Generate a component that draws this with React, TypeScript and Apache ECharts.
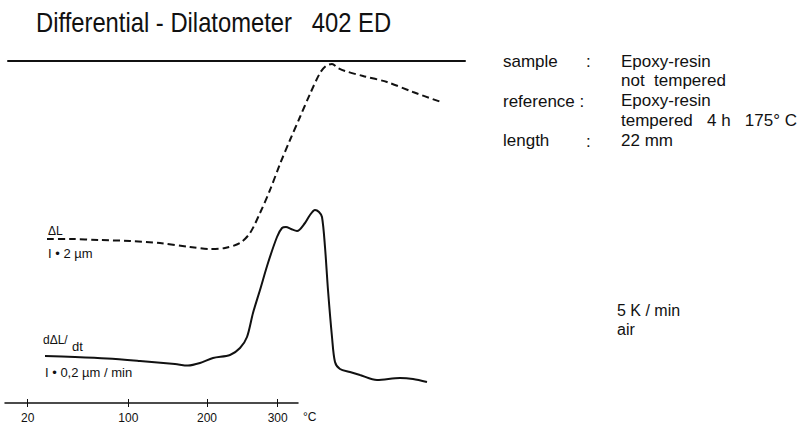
import React, { useEffect, useRef } from "react";
import * as echarts from "echarts";

// x positions are in chart-scale units (the original temperature scale is non-linear)
const xTickPositions = [22.7, 123.3, 202, 272.7];
const xTickLabels = ["20", "100", "200", "300"];

// ΔL (dashed), arbitrary units
const dLx = [42, 65, 95, 125, 155, 185, 205, 220, 235, 245, 255, 265, 275, 285, 295, 305, 315, 321, 327, 333, 340, 358, 382, 408, 436];
const dLy = [165, 165, 164, 163, 161, 157, 155, 156, 161, 171, 191, 214, 240, 264, 287, 310, 331, 338, 340, 336, 333, 328, 322, 312, 302];

// dΔL/dt (solid), arbitrary units
const rateX = [40, 70, 102, 135, 170, 183, 195, 208, 225, 235, 242, 248, 255, 263, 272, 277, 281, 286, 292, 300, 305, 310, 314, 317, 320, 323, 327, 330, 335, 345, 355, 372, 395, 408, 422];
const rateY = [48, 47, 45.5, 43, 40, 38.5, 41, 46, 49, 56, 67, 91, 114, 141, 167, 176, 177, 175, 173, 181, 189, 194, 192, 187, 157, 114, 67, 42, 35, 32, 29, 24, 26, 25, 22];

const INK = "#111";
const FONT = "Liberation Sans";

export default function App() {
  const ref = useRef<HTMLDivElement>(null);
  useEffect(() => {
    if (!ref.current) return;
    const chart = echarts.init(ref.current, null, { renderer: "svg" });
    const labelFor = (v: number) => {
      let best = 0;
      xTickPositions.forEach((p, i) => {
        if (Math.abs(p - v) < Math.abs(xTickPositions[best] - v)) best = i;
      });
      return xTickLabels[best];
    };
    const txt = (text: string, x: number, y: number, size: number, extra: any = {}) => ({
      type: "text",
      x,
      y,
      scaleX: extra.scaleX ?? 1,
      style: {
        text,
        fill: INK,
        font: `${size}px "${FONT}"`,
        verticalAlign: "middle",
        align: extra.align ?? "left",
      },
    });
    const hiddenY = (gridIndex: number, max: number) => ({ gridIndex, type: "value", min: 0, max, show: false });
    chart.setOption({
      animation: false,
      backgroundColor: "#fff",
      grid: [
        // plot area for the curves
        { left: 5, width: 460, top: 51, height: 353 },
        // short temperature axis at the bottom
        { left: 5, width: 293, top: 394, height: 10 },
        // frame line at the top
        { left: 8, width: 457, top: 51, height: 10 },
      ],
      xAxis: [
        {
          gridIndex: 0,
          type: "value",
          min: 0,
          max: 460,
          show: false,
        },
        {
          gridIndex: 1,
          type: "value",
          min: 0,
          max: 293,
          position: "bottom",
          axisLine: { show: true, lineStyle: { color: INK, width: 1.5 } },
          axisTick: { show: true, customValues: xTickPositions, length: 4, lineStyle: { color: INK, width: 1 } },
          axisLabel: {
            show: true,
            customValues: xTickPositions,
            formatter: (v: number) => labelFor(v),
            color: INK,
            fontSize: 12,
            fontFamily: FONT,
            margin: 9,
          },
          splitLine: { show: false },
        },
        {
          gridIndex: 1,
          type: "value",
          min: 0,
          max: 293,
          position: "bottom",
          axisLine: { show: false },
          axisTick: { show: true, inside: true, customValues: xTickPositions, length: 4, lineStyle: { color: INK, width: 1 } },
          axisLabel: { show: false },
          splitLine: { show: false },
        },
        {
          gridIndex: 2,
          type: "value",
          min: 0,
          max: 1,
          position: "top",
          axisLine: { show: true, lineStyle: { color: INK, width: 2 } },
          axisTick: { show: false },
          axisLabel: { show: false },
          splitLine: { show: false },
        },
      ],
      yAxis: [hiddenY(0, 353), hiddenY(1, 1), hiddenY(2, 1)],
      series: [
        {
          name: "ΔL",
          type: "line",
          xAxisIndex: 0,
          yAxisIndex: 0,
          data: dLx.map((x, i) => [x, dLy[i]]),
          showSymbol: false,
          symbol: "none",
          smooth: 0.3,
          lineStyle: { color: INK, width: 2, type: [7, 4] },
        },
        {
          name: "dΔL/dt",
          type: "line",
          xAxisIndex: 0,
          yAxisIndex: 0,
          data: rateX.map((x, i) => [x, rateY[i]]),
          showSymbol: false,
          symbol: "none",
          smooth: 0.3,
          lineStyle: { color: INK, width: 2 },
        },
      ],
      graphic: [
        txt("Differential - Dilatometer   402 ED", 36, 22, 28, { scaleX: 0.85 }),
        txt("sample", 503, 61, 17),
        txt(":", 586, 61, 17),
        txt("Epoxy-resin", 621, 61, 17),
        txt("not  tempered", 621, 80, 17),
        txt("reference :", 503, 101, 17),
        txt("Epoxy-resin", 621, 100, 17),
        txt("tempered   4 h   175° C", 621, 120, 17),
        txt("length", 503, 140, 17),
        txt(":", 586, 141, 17),
        txt("22 mm", 621, 140, 17),
        txt("5 K / min", 617, 310, 16),
        txt("air", 617, 329, 16),
        txt("ΔL", 48, 231, 12),
        txt("I • 2 µm", 48, 253, 13),
        txt("dΔL/", 43, 340, 12),
        txt("dt", 72, 346, 13),
        txt("I • 0,2 µm / min", 45, 372, 13),
        txt("°C", 303, 417, 12),
      ],
    });
    return () => chart.dispose();
  }, []);
  return (
    <div
      ref={ref}
      style={{ position: "fixed", left: 0, top: 0, width: 800, height: 424, background: "#fff" }}
    />
  );
}
